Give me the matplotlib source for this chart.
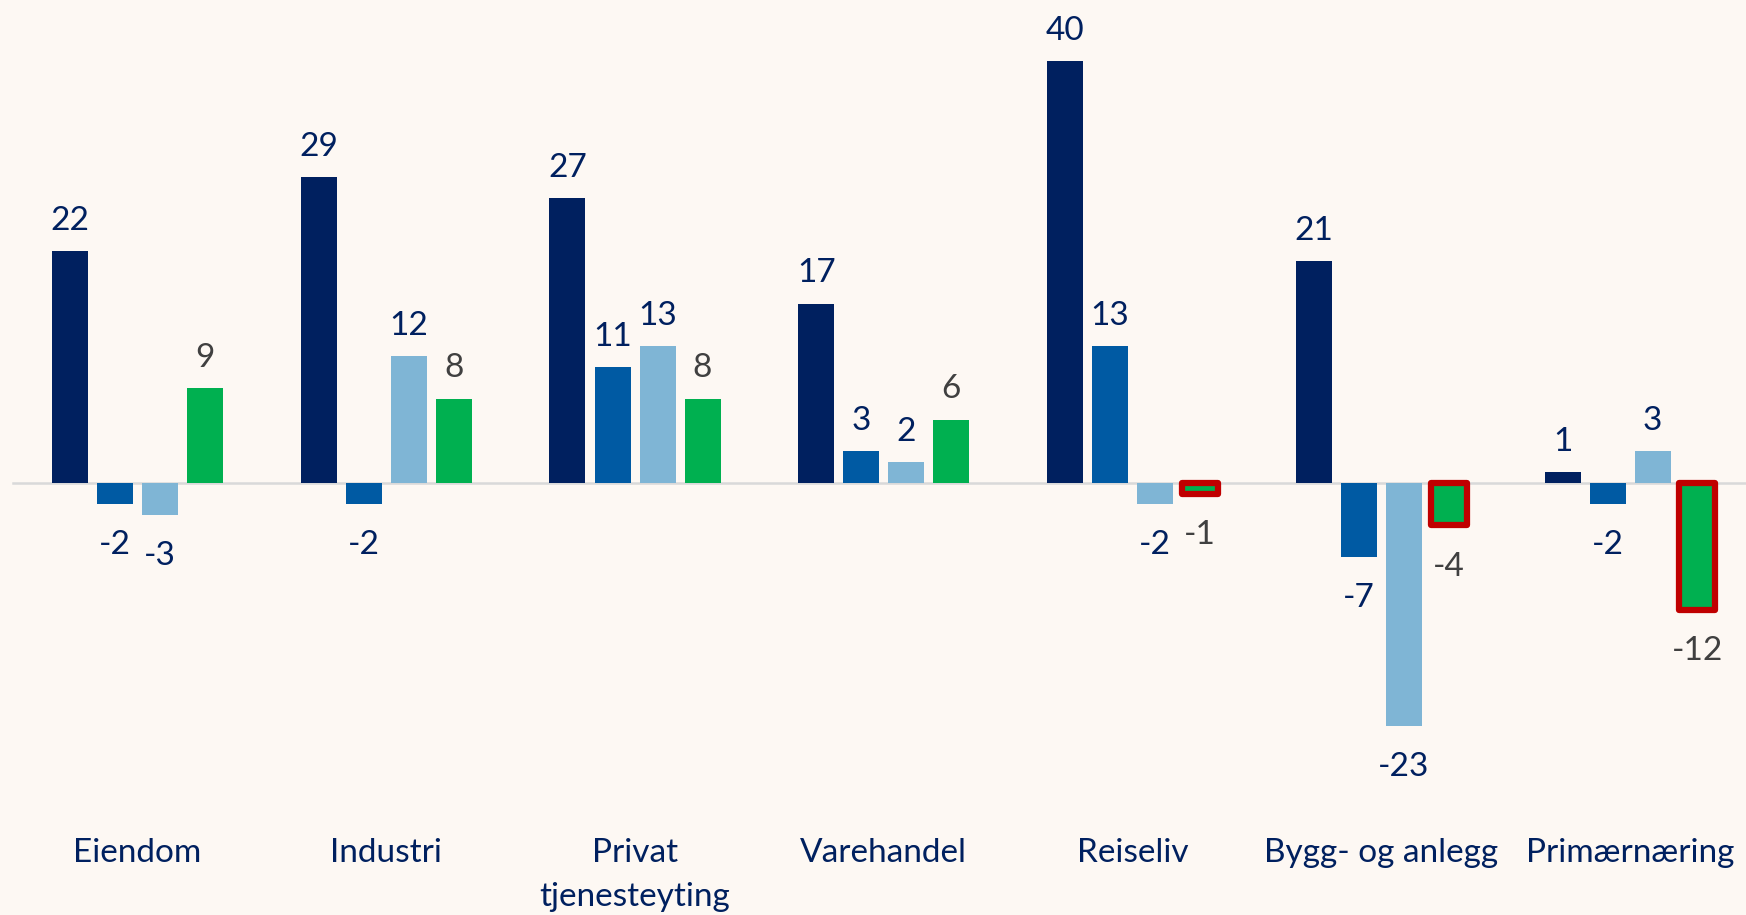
import matplotlib
matplotlib.use("Agg")
import matplotlib.pyplot as plt
import numpy as np

categories = ["Eiendom", "Industri", "Privat\ntjenesteyting", "Varehandel",
              "Reiseliv", "Bygg- og anlegg", "Primærnæring"]
s1 = [22, 29, 27, 17, 40, 21, 1]
s2 = [-2, -2, 11, 3, 13, -7, -2]
s3 = [-3, 12, 13, 2, -2, -23, 3]
s4 = [9, 8, 8, 6, -1, -4, -12]

series = [s1, s2, s3, s4]
colors = ["#00205F", "#005AA3", "#7FB5D5", "#00B050"]
label_colors = ["#00205F", "#00205F", "#00205F", "#404040"]

plt.rcParams['font.family'] = ['Lato', 'DejaVu Sans']
W, H = 1746, 915
fig = plt.figure(figsize=(W / 100, H / 100), dpi=100)
bg = "#FDF8F3"
fig.patch.set_facecolor(bg)
ax = fig.add_axes([0, 0, 1, 1])
ax.set_facecolor(bg)

step_px = 248.75
first_c = 137.5
ax.set_xlim(-first_c / step_px, (W - first_c) / step_px)
ppu = 10.55
zero_px = 483
ax.set_ylim(-(H - zero_px) / ppu, zero_px / ppu)
for s in ax.spines.values():
    s.set_visible(False)
ax.set_xticks([])
ax.set_yticks([])

x = np.arange(len(categories))
bw = 36 / step_px
sp = 45 / step_px
fs = 24
ax.plot([-0.5, 6.6], [0, 0], color="#D9D9D9", lw=1.8, zorder=1)
for i, (vals, c, lc) in enumerate(zip(series, colors, label_colors)):
    xs = x + (i - 1.5) * sp
    for xi, v in zip(xs, vals):
        if i == 3 and v < 0:
            ax.bar(xi, v, width=bw, color=c, edgecolor="#C00000", linewidth=4.5,
                   joinstyle="round", zorder=3)
        else:
            ax.bar(xi, v, width=bw, color=c, edgecolor="none", zorder=2)
        if v >= 0:
            ax.annotate(f"{v}", (xi, v), xytext=(0, 11), textcoords="offset points",
                        ha="center", va="bottom", fontsize=fs, color=lc)
        else:
            ax.annotate(f"{v}", (xi, v), xytext=(0, -19), textcoords="offset points",
                        ha="center", va="top", fontsize=fs, color=lc)

for xi, cat in zip(x, categories):
    ax.text(xi, -(838 - zero_px) / ppu, cat, ha="center", va="top", fontsize=fs,
            color="#00205F", linespacing=1.6)

fig.savefig("out.png", dpi=100, facecolor=bg)
